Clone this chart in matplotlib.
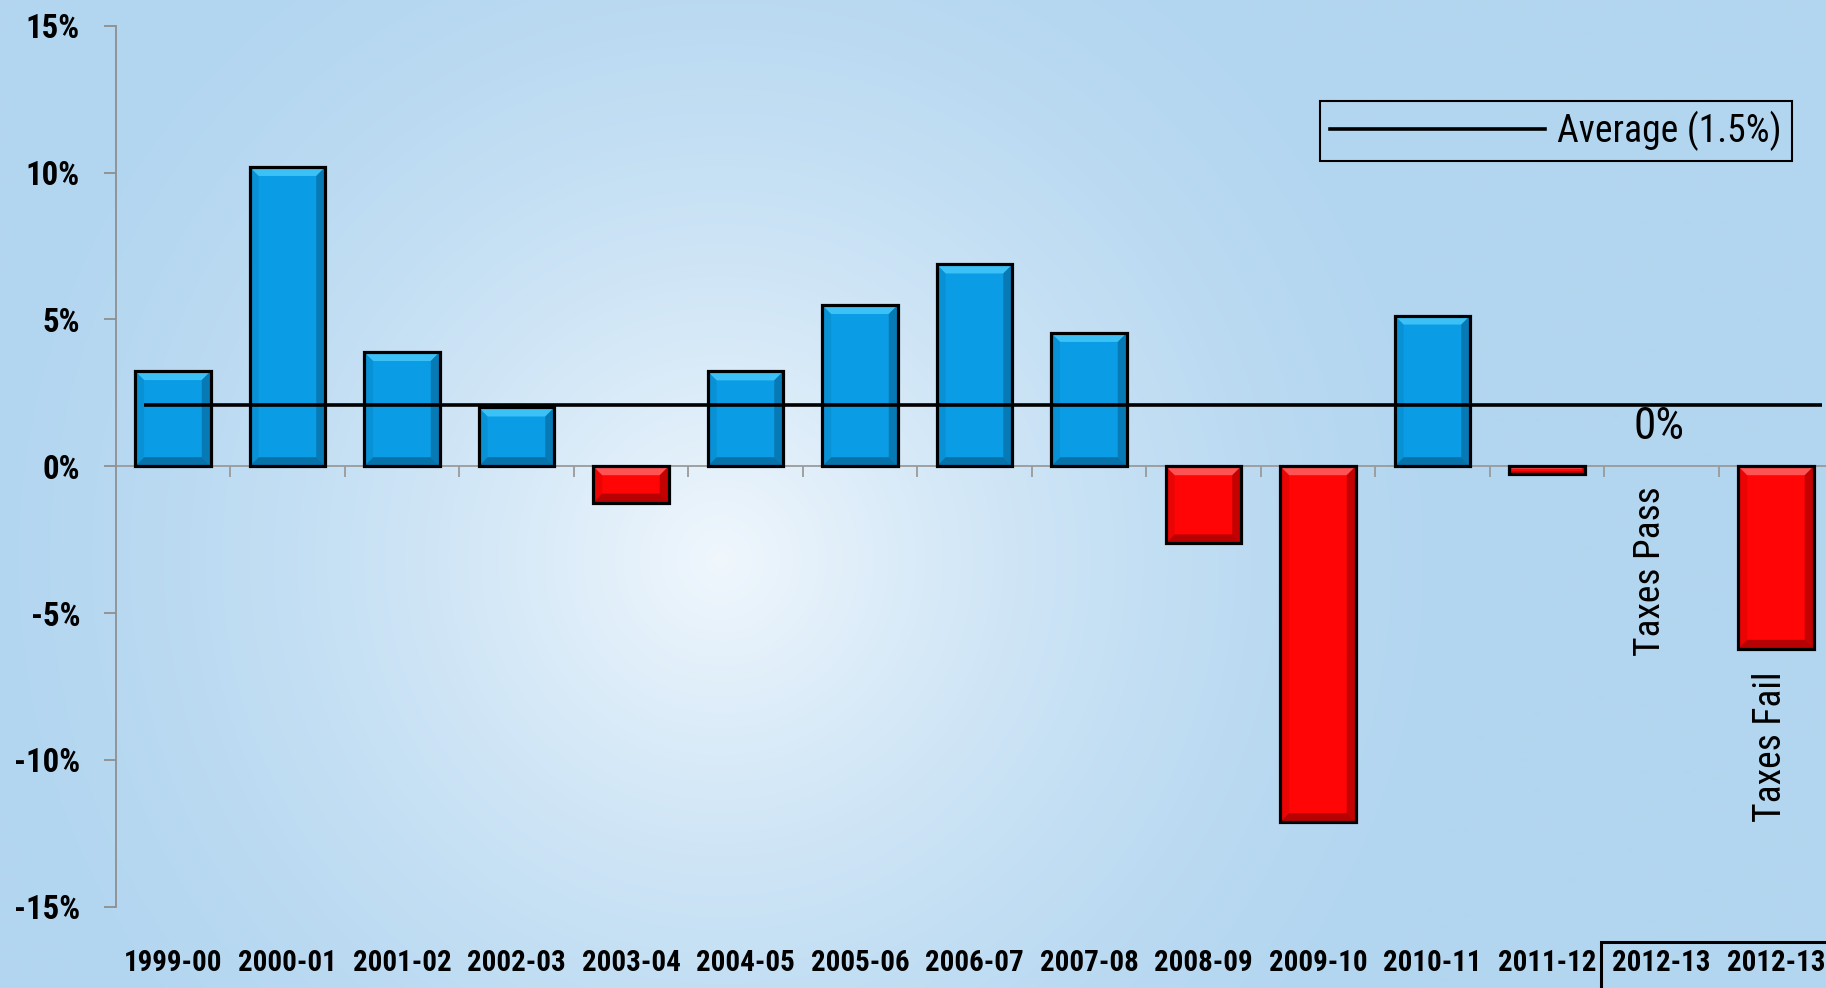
import matplotlib
matplotlib.use("Agg")
import matplotlib.pyplot as plt
import matplotlib.transforms as mtransforms
from matplotlib import font_manager
from matplotlib.font_manager import FontProperties
from matplotlib.textpath import TextPath
from matplotlib.lines import Line2D
from matplotlib.patches import Polygon
import numpy as np

# datos
years = ['1999-00', '2000-01', '2001-02', '2002-03', '2003-04', '2004-05',
         '2005-06', '2006-07', '2007-08', '2008-09', '2009-10', '2010-11',
         '2011-12', '2012-13', '2012-13']
values = [3.24, 10.19, 3.89, 2.0, -1.24, 3.23, 5.49, 6.87, 4.54, -2.63,
          -12.12, 5.13, -0.26, 0.0, -6.22]
average_level = 2.08
average_label = 'Average (1.5%)'
yticks = [-15, -10, -5, 0, 5, 10, 15]

# buscar una fuente estrecha (tipo Arial Narrow)
entries = font_manager.fontManager.ttflist
names = {f.name for f in entries}
FAM, STRETCH = 'Liberation Sans', 'normal'
for cand in ['Liberation Sans Narrow', 'Arial Narrow', 'Roboto Condensed',
             'DejaVu Sans Condensed', 'Open Sans Condensed']:
    if cand in names:
        FAM = cand
        break
else:
    for cand in ['Noto Sans', 'Open Sans', 'Roboto', 'DejaVu Sans']:
        if any(f.name == cand and 'condensed' in str(f.stretch) for f in entries):
            FAM, STRETCH = cand, 'condensed'
            break
plt.rcParams['font.family'] = [FAM, 'Liberation Sans', 'DejaVu Sans']
plt.rcParams['font.stretch'] = STRETCH

W, H = 1826, 988
fig = plt.figure(figsize=(W / 100, H / 100), dpi=100)
renderer = fig.canvas.get_renderer()


def size_for(s, target_w, target_cap, weight='normal', a=0.6, cap_char='0'):
    # mezcla entre el tamaño que da el ancho y el que da la altura de mayúscula
    base = 20.0
    t = fig.text(0, 0, s, fontsize=base, fontweight=weight)
    w = t.get_window_extent(renderer).width
    t.remove()
    f_w = base * target_w / w
    fp = FontProperties(family=FAM, weight=weight, stretch=STRETCH)
    h100 = TextPath((0, 0), cap_char, size=100, prop=fp).get_extents().height
    f_h = target_cap / (h100 / 100.0) * 72 / 100
    return f_w ** (1 - a) * f_h ** a


# fondo con degradado radial
bg = fig.add_axes([0, 0, 1, 1], zorder=-10)
yy, xx = np.mgrid[0:H, 0:W]
r = np.sqrt((xx - 720) ** 2 + (yy - 560) ** 2) / 760.0
t = (1 - np.clip(r, 0, 1)) ** 1.6
edge = np.array([179, 214, 240]) / 255.0
center = np.array([240, 247, 253]) / 255.0
img = edge[None, None, :] + (center - edge)[None, None, :] * t[:, :, None]
bg.imshow(img, aspect='auto', extent=[0, 1, 0, 1], origin='upper')
bg.axis('off')

ax = fig.add_axes([115.7 / W, 1 - 906.7 / H, 15 * 114.5 / W, 881.0 / H])
ax.set_facecolor('none')
ax.set_xlim(-0.5, len(years) - 0.5)
ax.set_ylim(-15, 15)

x = np.arange(len(years))
vals = np.array(values)
colors = ['#0a9de6' if v >= 0 else '#ff0505' for v in values]
bars = ax.bar(x, vals, width=0.66, color=colors, edgecolor='none', zorder=3)

# biselado de las barras
p0 = ax.transData.transform((0, 0))
p1 = ax.transData.transform((1, 1))
sx, sy = p1[0] - p0[0], p1[1] - p0[1]
for b, v in zip(bars, values):
    if v == 0:
        continue
    x0, x1 = b.get_x(), b.get_x() + b.get_width()
    top, bot = max(0, v), min(0, v)
    dy = min(9 / sy, (top - bot) / 3)
    dx = min(9 / sx, dy * sy / sx)
    light = '#45c8fb' if v > 0 else '#ff6060'
    dark = '#05507a' if v > 0 else '#7a0000'
    ax.add_patch(Polygon([(x0, top), (x1, top), (x1 - dx, top - dy), (x0 + dx, top - dy)],
                         closed=True, facecolor=light, edgecolor='none', alpha=0.85, zorder=4))
    ax.add_patch(Polygon([(x0, bot), (x1, bot), (x1 - dx, bot + dy), (x0 + dx, bot + dy)],
                         closed=True, facecolor=dark, edgecolor='none', alpha=0.55, zorder=4))
    ax.add_patch(Polygon([(x1, top), (x1, bot), (x1 - dx, bot + dy), (x1 - dx, top - dy)],
                         closed=True, facecolor=dark, edgecolor='none', alpha=0.45, zorder=4))
    ax.add_patch(Polygon([(x0, top), (x0, bot), (x0 + dx, bot + dy), (x0 + dx, top - dy)],
                         closed=True, facecolor=dark, edgecolor='none', alpha=0.15, zorder=4))
nz = vals != 0
ax.bar(x[nz], vals[nz], width=0.66, fill=False, edgecolor='black', linewidth=2.3, zorder=5)

# linea de promedio
ax.plot([-0.25, 14.4], [average_level, average_level], color='black',
        linewidth=2.6, zorder=6, solid_capstyle='butt')

# ejes
for s in ['top', 'right']:
    ax.spines[s].set_visible(False)
ax.spines['left'].set_color('#8f8f8f')
ax.spines['left'].set_linewidth(1.3)
ax.spines['bottom'].set_position(('data', 0))
ax.spines['bottom'].set_color('#9a9a9a')
ax.spines['bottom'].set_linewidth(1.3)
ax.spines['bottom'].set_zorder(2)

fs_y = size_for('-15%', 67, 24, 'bold', a=1.0)
ax.set_yticks(yticks)
ax.set_yticklabels([f'{v}%' for v in yticks], fontsize=fs_y, fontweight='bold')
ax.tick_params(axis='y', direction='out', length=8.6, width=1.3, color='#8f8f8f', pad=17)
ax.set_xticks(np.arange(0.5, len(years) - 1, 1))
ax.set_xticklabels([])
ax.tick_params(axis='x', direction='out', length=7.7, width=1.3, color='#9a9a9a')

fs_x = size_for('1999-00', 90, 21.7, 'bold', a=0.8)
trans = mtransforms.blended_transform_factory(ax.transData, ax.transAxes)
for xi, lab in zip(x, years):
    ax.text(xi, -0.0636, lab, transform=trans, ha='center', va='center',
            fontsize=fs_x, fontweight='bold', clip_on=False)

# corchete bajo los dos escenarios 2012-13
ax.plot([12.47, 12.47, 15.0], [-0.095, -0.0397, -0.0397], transform=trans,
        color='black', linewidth=2.2, clip_on=False, solid_joinstyle='miter')

# anotaciones
ax.text(12.98, 1.34, '0%', ha='center', va='center',
        fontsize=size_for('0%', 54, 32.6, a=0.8), zorder=7)
ax.text(12.9, -3.56, 'Taxes Pass', rotation=90, ha='center', va='center',
        fontsize=size_for('Taxes Pass', 163, 27, a=0.7, cap_char='T'), zorder=7)
ax.text(13.95, -9.55, 'Taxes Fail', rotation=90, ha='center', va='center',
        fontsize=size_for('Taxes Fail', 146, 27, a=0.7, cap_char='T'), zorder=7)

fs_leg = size_for(average_label, 214, 27.3, a=0.7, cap_char='A')
fs_px = fs_leg * 100 / 72
leg = ax.legend([Line2D([0], [0], color='black', linewidth=2.6)], [average_label],
                loc='upper right', bbox_to_anchor=(1792 / W, 1 - 100.7 / H),
                bbox_transform=fig.transFigure, fontsize=fs_leg,
                handlelength=215 / fs_px, handletextpad=12 / fs_px,
                borderpad=10 / fs_px, borderaxespad=0, fancybox=False,
                framealpha=1, frameon=True)
leg.get_frame().set_facecolor('none')
leg.get_frame().set_edgecolor('black')
leg.get_frame().set_linewidth(1.5)

fig.savefig('out.png', dpi=100)
